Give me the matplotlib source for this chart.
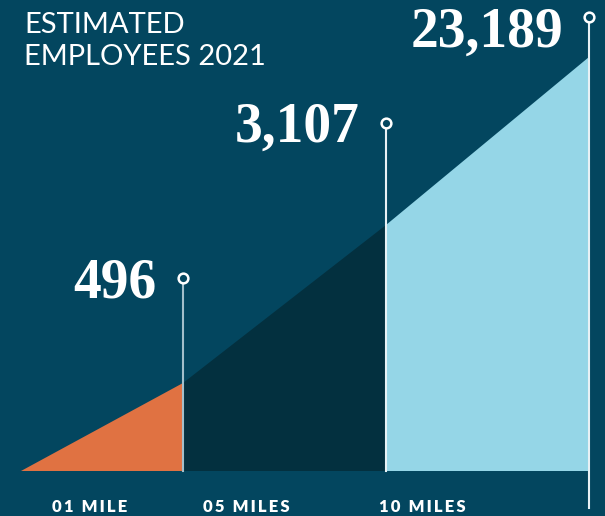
import matplotlib
matplotlib.use("Agg")
import matplotlib.pyplot as plt

# data
distances = ["01 MILE", "05 MILES", "10 MILES"]
employees = [496, 3107, 23189]
# shape of the ramp (design units, not proportional to counts)
edges = [21, 183, 386, 589]
ramp_tops = [0, 88, 246, 414]
pin_tops = [193, 348, 454]

bg = "#03465f"
seg_colors = ["#e07242", "#03303f", "#95d6e7"]

fig = plt.figure(figsize=(6.05, 5.16), dpi=100, facecolor=bg)
ax = fig.add_axes([0, 0, 1, 1])
ax.set_facecolor(bg)
ax.set_xlim(0, 605)
ax.set_ylim(-45, 471)
ax.axis("off")

# ramp segments
for i in range(3):
    xs = [edges[i], edges[i + 1], edges[i + 1], edges[i]]
    ys = [0, 0, ramp_tops[i + 1], ramp_tops[i]]
    ax.fill(xs, ys, color=seg_colors[i], lw=0, zorder=1)

# pins + numbers
line_cols = ["#a3bfcb", "#e8f1f5", "#e8f1f5"]
for i in range(3):
    x = edges[i + 1]
    low = -37 if i == 2 else 0
    ax.plot([x, x], [low, pin_tops[i]], color=line_cols[i], lw=1.5, zorder=2)
    ax.plot(x, pin_tops[i], "o", ms=7, mfc=bg, mec="white", mew=1.8, zorder=3)
    ax.text(x - 26, pin_tops[i] - 19 + (0 if i < 2 else -11), f"{employees[i]:,}",
            ha="right", va="baseline", color="white", fontsize=40,
            fontweight="bold", family=["Liberation Serif", "DejaVu Serif"])

# title
for k, line in enumerate(["ESTIMATED", "EMPLOYEES 2021"]):
    ax.text(24, 471 - 33 - 32 * k, line, color="white", fontsize=21,
            fontweight="normal", family=["Lato", "DejaVu Sans"], va="baseline")

# distance labels
label_x = [90, 246, 422]
for lx, lab in zip(label_x, distances):
    spaced = "\u2009".join(lab)
    ax.text(lx, -41, spaced, ha="center", va="baseline", color="white",
            fontsize=12, fontweight="heavy", family=["Lato", "DejaVu Sans"])

fig.savefig("out.png", dpi=100, facecolor=bg)
